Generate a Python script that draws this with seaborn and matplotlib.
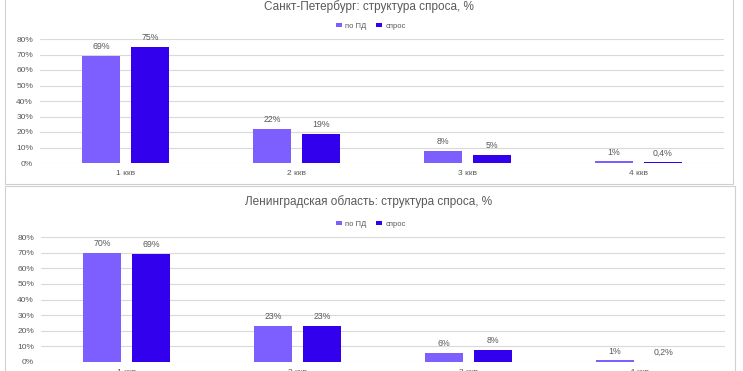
import pandas as pd
import seaborn as sns
import matplotlib.pyplot as plt
from matplotlib.patches import Rectangle

rooms = ["1 ккв", "2 ккв", "3 ккв", "4 ккв"]
series_names = ["по ПД", "спрос"]

spb_pd = [69, 22, 8, 1]
spb_demand = [75, 19, 5, 0.4]
lo_pd = [70, 23, 6, 1]
lo_demand = [69, 23, 8, 0.2]

titles = ["Санкт-Петербург: структура спроса, %",
          "Ленинградская область: структура спроса, %"]

colors = ["#7D5EFF", "#3300EE"]
text_gray = "#595959"
grid_gray = "#D9D9D9"

sns.set_style("white")
plt.rcParams["font.family"] = ["Liberation Sans", "DejaVu Sans"]

W, H = 743, 371
fig = plt.figure(figsize=(W / 100, H / 100), dpi=100)


def px_axes(left, top, right, bottom):
    return fig.add_axes([left / W, 1 - bottom / H, (right - left) / W, (bottom - top) / H])


def fmt(v):
    if float(v).is_integer():
        return f"{int(v)}%"
    return f"{v}%".replace(".", ",")


def make_df(pd_vals, demand_vals):
    return pd.DataFrame({
        "rooms": rooms * 2,
        "series": [series_names[0]] * len(rooms) + [series_names[1]] * len(rooms),
        "value": list(pd_vals) + list(demand_vals),
    })


def draw_chart(ax, pd_vals, demand_vals, title, title_y, legend_y):
    df = make_df(pd_vals, demand_vals)
    sns.barplot(data=df, x="rooms", y="value", hue="series", palette=colors,
                saturation=1, width=0.572, gap=0.224, linewidth=0, ax=ax)
    for cont, vals in zip(ax.containers, [pd_vals, demand_vals]):
        ax.bar_label(cont, labels=[fmt(v) for v in vals], padding=3.5,
                     fontsize=6.3, color=text_gray)
    ax.set_xlim(-0.5, 3.5)
    ax.set_ylim(0, 80)
    ax.set_yticks(range(0, 81, 10))
    ax.set_yticklabels([f"{t}%" for t in range(0, 81, 10)])
    ax.tick_params(axis="y", length=0, pad=5, labelsize=6, labelcolor=text_gray)
    ax.tick_params(axis="x", length=0, pad=5, labelsize=6, labelcolor=text_gray)
    ax.yaxis.grid(True, color=grid_gray, lw=0.8)
    ax.set_axisbelow(True)
    sns.despine(ax=ax, left=True, bottom=True)
    ax.set_xlabel("")
    ax.set_ylabel("")
    handles, labels = ax.get_legend_handles_labels()
    ax.legend(handles, labels, loc="center", bbox_to_anchor=(371 / W, 1 - legend_y / H),
              bbox_transform=fig.transFigure, ncol=2, frameon=False, fontsize=5.5,
              handlelength=0.7, handleheight=0.45, handletextpad=0.45, columnspacing=1.3,
              labelcolor=text_gray)
    fig.text(369 / W, 1 - title_y / H, title, ha="center", va="center",
             fontsize=8.5, color=text_gray)


# chart frames
fig.add_artist(Rectangle((5 / W, 1 - 184 / H), 728 / W, 200 / H, transform=fig.transFigure,
                         fill=False, edgecolor="#D0D0D0", lw=0.8))
fig.add_artist(Rectangle((5 / W, -20 / H), 730 / W, (371 - 186 + 20) / H,
                         transform=fig.transFigure, fill=False, edgecolor="#D0D0D0", lw=0.8))

ax1 = px_axes(40, 39, 724, 163)
draw_chart(ax1, spb_pd, spb_demand, titles[0], 7, 26)

ax2 = px_axes(41, 237, 725, 362)
draw_chart(ax2, lo_pd, lo_demand, titles[1], 202, 224)

fig.savefig("out.png", dpi=100)
